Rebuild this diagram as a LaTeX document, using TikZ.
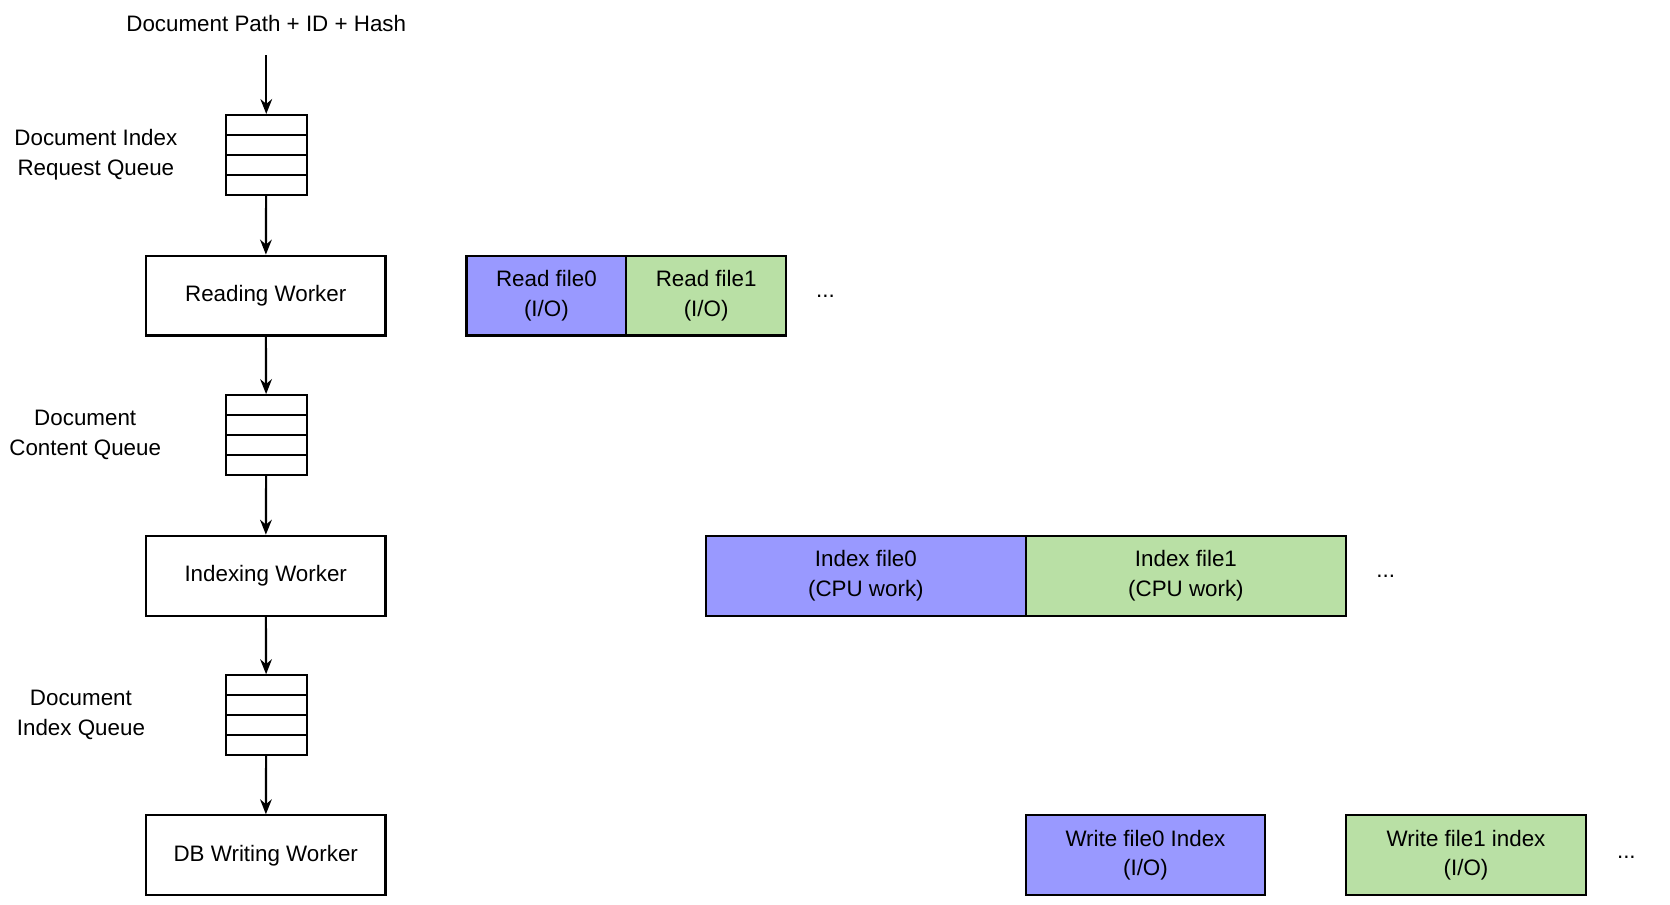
\documentclass[tikz,border=0pt]{standalone}
\usepackage{fontspec}
\setmainfont{Liberation Sans}
\usetikzlibrary{arrows.meta}
\definecolor{blu}{HTML}{9999FF}
\definecolor{grn}{HTML}{B9E0A5}
\begin{document}
\begin{tikzpicture}[x=1pt,y=-1pt,
  every node/.style={font=\fontsize{21}{28}\selectfont,align=center},
  box/.style={draw,line width=2pt,minimum height=75pt,inner sep=0pt},
  q/.style={draw,line width=2pt,minimum width=76pt,minimum height=75pt,inner sep=0pt,
    path picture={\foreach \i in {1,2,3}{\draw[line width=2pt] ([yshift=-\i*18.75pt]path picture bounding box.north west) -- ([yshift=-\i*18.75pt]path picture bounding box.north east);}}},
  arr/.style={-{Stealth[length=14pt,width=11pt]},line width=2pt}]
\useasboundingbox (0,0) rectangle (1568,849);
\node (title) at (250,22) {Document Path + ID + Hash};
\coordinate (top) at (250,52);
\node[q] (q1) at (250,145.5) {};
\node[box,minimum width=225pt] (rw) at (249.5,277.5) {Reading Worker};
\node[q] (q2) at (250,408.5) {};
\node[box,minimum width=225pt] (iw) at (249.5,540.5) {Indexing Worker};
\node[q] (q3) at (250,671.5) {};
\node[box,minimum width=225pt] (dw) at (249.5,803) {DB Writing Worker};
\node (l1) at (90,145) {Document Index\\Request Queue};
\node (l2) at (80,408) {Document\\Content Queue};
\node (l3) at (76,671) {Document\\Index Queue};
\draw[arr] (top) -- (q1.north);
\draw[arr] (q1) -- (rw);
\draw[arr] (rw) -- (q2);
\draw[arr] (q2) -- (iw);
\draw[arr] (iw) -- (q3);
\draw[arr] (q3) -- (dw);
\node[box,fill=blu,minimum width=150pt] (r0) at (513,277.5) {Read file0\\(I/O)};
\node[box,fill=grn,minimum width=150pt] (r1) at (663,277.5) {Read file1\\(I/O)};
\node (d1) at (775,278) {...};
\node[box,fill=blu,minimum width=300pt] (i0) at (813,540.5) {Index file0\\(CPU work)};
\node[box,fill=grn,minimum width=301pt] (i1) at (1113.5,540.5) {Index file1\\(CPU work)};
\node (d2) at (1301,541) {...};
\node[box,fill=blu,minimum width=225pt] (w0) at (1075.5,803) {Write file0 Index\\(I/O)};
\node[box,fill=grn,minimum width=225pt] (w1) at (1376.5,803) {Write file1 index\\(I/O)};
\node (d3) at (1527,805) {...};
\end{tikzpicture}
\end{document}
